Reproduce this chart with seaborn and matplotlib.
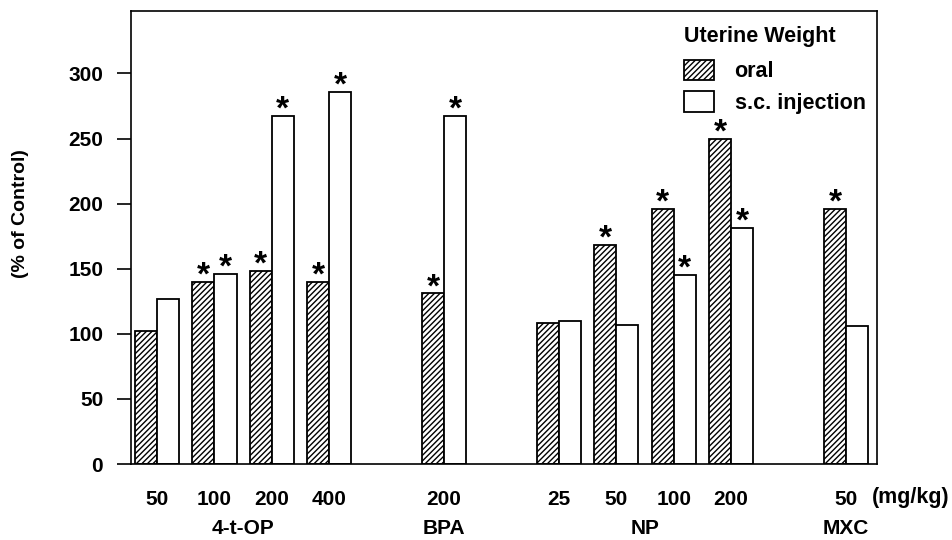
import numpy as np
import pandas as pd
import matplotlib
matplotlib.use("Agg")
import matplotlib.pyplot as plt
import seaborn as sns
from matplotlib.patches import Patch

# ---- data ----
compounds = ["4-t-OP", "4-t-OP", "4-t-OP", "4-t-OP", "BPA", "NP", "NP", "NP", "NP", "MXC"]
doses = ["50", "100", "200", "400", "200", "25", "50", "100", "200", "50"]
oral = [102, 140, 148, 140, 131, 108, 168, 196, 250, 196]
sc_injection = [127, 146, 267, 286, 267, 110, 107, 145, 181, 106]
oral_sig = [False, True, True, True, True, False, True, True, True, True]
sc_sig = [False, True, True, True, True, False, False, True, True, False]
group_names = ["4-t-OP", "BPA", "NP", "MXC"]
routes = ["oral", "s.c. injection"]
yticks = [0, 50, 100, 150, 200, 250, 300]

keys = [f"{c} {d}" for c, d in zip(compounds, doses)]
df = pd.DataFrame({
    "key": keys * 2,
    "value": oral + sc_injection,
    "route": [routes[0]] * len(keys) + [routes[1]] * len(keys),
    "sig": oral_sig + sc_sig,
})

# category slots with blank gaps between compound groups
order = []
prev = None
for k, c in zip(keys, compounds):
    if prev is not None and c != prev:
        order.append(f"_gap_{c}")
    order.append(k)
    prev = c

plt.rcParams["font.family"] = ["Liberation Sans", "DejaVu Sans"]
plt.rcParams["font.weight"] = "bold"
plt.rcParams["hatch.linewidth"] = 1.0
plt.rcParams["hatch.color"] = "black"

FS = 15

fig = plt.figure(figsize=(9.52, 5.4), dpi=100)
ax = fig.add_axes([131 / 952, 1 - 464 / 540, (877 - 131) / 952, (464 - 11) / 540])

sns.barplot(data=df, x="key", y="value", hue="route", order=order, hue_order=routes,
            palette=["white", "white"], edgecolor="black", linewidth=1.3,
            width=0.77, gap=0, errorbar=None, legend=False, saturation=1, ax=ax)

for bar in ax.containers[0]:
    bar.set_hatch("//////")

# significance stars
sig_lookup = {(r, k): s for r, k, s in zip(df["route"], df["key"], df["sig"])}
for route, cont in zip(routes, ax.containers):
    for bar in cont:
        xc = bar.get_x() + bar.get_width() / 2
        idx = int(round(xc))
        key = order[idx]
        if sig_lookup.get((route, key), False):
            ax.text(xc, bar.get_height() - 2, "*", ha="center", va="baseline",
                    fontsize=24, fontweight="bold")

ax.set_ylim(0, 348)
ax.set_xlim(-0.453, 12.54)
ax.set_yticks(yticks)
ax.set_yticklabels([str(v) for v in yticks], fontsize=FS, fontweight="bold")
ax.tick_params(axis="y", direction="out", length=10, width=1.2, pad=10)

# x tick labels: doses
tick_pos = [order.index(k) for k in keys]
ax.set_xticks(tick_pos)
ax.set_xticklabels(doses, fontsize=FS, fontweight="bold")
ax.tick_params(axis="x", length=0, pad=18.5)
ax.set_xlabel("")
ax.set_ylabel("")

for sp in ax.spines.values():
    sp.set_linewidth(1.2)
    sp.set_color("black")

# group names
trans = ax.get_xaxis_transform()
for g in group_names:
    pos = [order.index(k) for k, c in zip(keys, compounds) if c == g]
    ax.text(np.mean(pos), -64 / 453, g, transform=trans, ha="center", va="center",
            fontsize=FS, fontweight="bold")

fig.text(911 / 952, 1 - 498 / 540, "(mg/kg)", ha="center", va="center",
         fontsize=15.5, fontweight="bold")
fig.text(21 / 952, 1 - 214 / 540, "(% of Control)", rotation=90, ha="center",
         va="center", fontsize=14, fontweight="bold")

handles = [Patch(facecolor="white", edgecolor="black", hatch="//////", linewidth=1.3),
           Patch(facecolor="white", edgecolor="black", linewidth=1.3)]
leg = ax.legend(handles, routes, title="Uterine Weight", loc="upper left",
                bbox_to_anchor=(684 / 952, 1 - 26 / 540), bbox_transform=fig.transFigure,
                frameon=False, borderpad=0, borderaxespad=0, handlelength=1.4,
                handleheight=1.1, handletextpad=0.95, labelspacing=0.42,
                prop={"size": 15.5, "weight": "bold"}, alignment="left")
leg.get_title().set_fontsize(15.5)
leg.get_title().set_fontweight("bold")
leg._legend_box.sep = 9

fig.savefig("out.png", dpi=100)
